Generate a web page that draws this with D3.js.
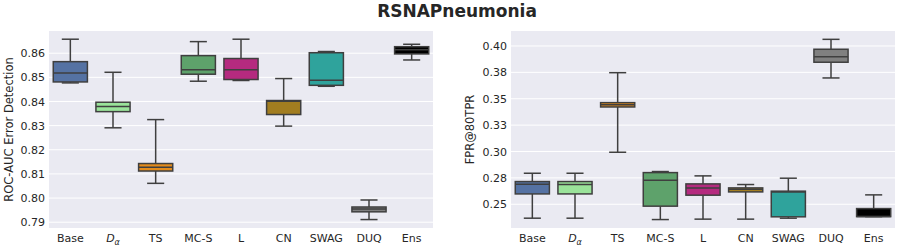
<!DOCTYPE html>
<html>
<head>
<meta charset="utf-8">
<script src="https://cdn.jsdelivr.net/npm/d3@7"></script>
<style>
  body { margin: 0; background: #fff; }
  text { font-family: "DejaVu Sans", sans-serif; }
</style>
</head>
<body>
<div id="chart"></div>
<script>
// Set dimensions
var w = 900;
var h = 250;

var categories = ["Base", "D_a", "TS", "MC-S", "L", "CN", "SWAG", "DUQ", "Ens"];
var colors = ["#5572a3", "#9ae39a", "#e38b1c", "#5ea26b", "#b52a7f", "#a27d20", "#2fa39c", "#808080", "#000000"];

// each box: [whisker low, q1, median, q3, whisker high]
var rocStats = [
    [0.8477, 0.8481, 0.8518, 0.8565, 0.8658],
    [0.8291, 0.8358, 0.8379, 0.8397, 0.8521],
    [0.8061, 0.8112, 0.8128, 0.8143, 0.8325],
    [0.8484, 0.8513, 0.8531, 0.8590, 0.8648],
    [0.8487, 0.8491, 0.8531, 0.8578, 0.8658],
    [0.8298, 0.8346, 0.8401, 0.8404, 0.8495],
    [0.8463, 0.8467, 0.8488, 0.8602, 0.8607],
    [0.7911, 0.7943, 0.7955, 0.7963, 0.7992],
    [0.8572, 0.8597, 0.8614, 0.8627, 0.8637]
];
var fprStats = [
    [0.2368, 0.2598, 0.2690, 0.2715, 0.2794],
    [0.2368, 0.2598, 0.2687, 0.2715, 0.2794],
    [0.2993, 0.3422, 0.3444, 0.3463, 0.3747],
    [0.2355, 0.2482, 0.2728, 0.2800, 0.2810],
    [0.2359, 0.2586, 0.2655, 0.2693, 0.2769],
    [0.2359, 0.2617, 0.2643, 0.2655, 0.2687],
    [0.2368, 0.2381, 0.2617, 0.2624, 0.2747],
    [0.3697, 0.3846, 0.3899, 0.3969, 0.4063],
    [0.2383, 0.2383, 0.2383, 0.2459, 0.2589]
];

var rocTicks = [0.79, 0.80, 0.81, 0.82, 0.83, 0.84, 0.85, 0.86];
var rocTickLabels = ["0.79", "0.80", "0.81", "0.82", "0.83", "0.84", "0.85", "0.86"];
var fprTicks = [0.25, 0.275, 0.30, 0.325, 0.35, 0.375, 0.40];
var fprTickLabels = ["0.25", "0.28", "0.30", "0.33", "0.35", "0.38", "0.40"];

var svg = d3.select("#chart")
    .append("svg")
    .attr("width", w)
    .attr("height", h);

svg.append("text")
    .attr("x", 457)
    .attr("y", 17)
    .attr("text-anchor", "middle")
    .style("font-size", "17px")
    .style("font-weight", "bold")
    .style("fill", "#262626")
    .text("RSNAPneumonia");

function drawPanel(opts) {
    var x = d3.scaleBand()
        .domain(d3.range(categories.length))
        .range([opts.left, opts.right])
        .padding(0);
    var y = d3.scaleLinear()
        .domain(opts.domain)
        .range([228, 31]);

    var g = svg.append("g");

    g.append("rect")
        .attr("x", opts.left)
        .attr("y", 31)
        .attr("width", opts.right - opts.left)
        .attr("height", 228 - 31)
        .attr("fill", "#eaeaf2");

    // grid
    g.selectAll("line.grid")
        .data(opts.ticks)
        .enter()
        .append("line")
        .attr("x1", opts.left)
        .attr("x2", opts.right)
        .attr("y1", function(d) { return y(d); })
        .attr("y2", function(d) { return y(d); })
        .attr("stroke", "#fff")
        .attr("stroke-width", 1);

    // y axis labels
    var yAxis = d3.axisLeft(y)
        .tickValues(opts.ticks)
        .tickFormat(function(d, i) { return opts.tickLabels[i]; })
        .tickSize(0)
        .tickPadding(4);
    var ya = g.append("g")
        .attr("transform", "translate(" + opts.left + ",0)")
        .call(yAxis);
    ya.select(".domain").remove();
    ya.selectAll("text")
        .style("font-size", "11px")
        .style("fill", "#262626")
        .style("font-family", "DejaVu Sans, sans-serif");

    // x axis labels
    var xAxis = d3.axisBottom(x)
        .tickFormat(function(d) { return categories[d]; })
        .tickSize(0)
        .tickPadding(6);
    var xa = g.append("g")
        .attr("transform", "translate(0,228)")
        .call(xAxis);
    xa.select(".domain").remove();
    xa.selectAll("text")
        .style("font-size", "11px")
        .style("fill", "#262626")
        .style("font-family", "DejaVu Sans, sans-serif")
        .each(function(d) {
            if (categories[d] === "D_a") {
                var t = d3.select(this).text("");
                t.append("tspan").style("font-style", "italic").text("D");
                t.append("tspan").attr("dy", "3").style("font-size", "8px")
                    .style("font-style", "italic").text("\u03b1");
            }
        });

    // y label
    g.append("text")
        .attr("transform", "translate(" + opts.labelX + "," + ((31 + 228) / 2) + ") rotate(-90)")
        .attr("text-anchor", "middle")
        .style("font-size", "11.5px")
        .style("fill", "#262626")
        .text(opts.label);

    var bw = x.bandwidth() * 0.8;
    var cw = bw / 2;
    var edge = "#3f3f3f";

    var boxes = g.selectAll("g.box")
        .data(opts.stats)
        .enter()
        .append("g")
        .attr("class", "box")
        .attr("transform", function(d, i) {
            return "translate(" + (x(i) + x.bandwidth() / 2) + ",0)";
        });

    // whiskers
    boxes.append("line")
        .attr("x1", 0).attr("x2", 0)
        .attr("y1", function(d) { return y(d[4]); })
        .attr("y2", function(d) { return y(d[3]); })
        .attr("stroke", edge).attr("stroke-width", 1.5);
    boxes.append("line")
        .attr("x1", 0).attr("x2", 0)
        .attr("y1", function(d) { return y(d[1]); })
        .attr("y2", function(d) { return y(d[0]); })
        .attr("stroke", edge).attr("stroke-width", 1.5);
    // caps
    [0, 4].forEach(function(k) {
        boxes.append("line")
            .attr("x1", -cw / 2).attr("x2", cw / 2)
            .attr("y1", function(d) { return y(d[k]); })
            .attr("y2", function(d) { return y(d[k]); })
            .attr("stroke", edge).attr("stroke-width", 1.5);
    });
    // box
    boxes.append("rect")
        .attr("x", -bw / 2)
        .attr("width", bw)
        .attr("y", function(d) { return y(d[3]); })
        .attr("height", function(d) { return Math.max(0.5, y(d[1]) - y(d[3])); })
        .attr("fill", function(d, i) { return colors[i]; })
        .attr("stroke", edge)
        .attr("stroke-width", 1.5);
    // median
    boxes.append("line")
        .attr("x1", -bw / 2).attr("x2", bw / 2)
        .attr("y1", function(d) { return y(d[2]); })
        .attr("y2", function(d) { return y(d[2]); })
        .attr("stroke", edge).attr("stroke-width", 1.5);
}

drawPanel({
    left: 49, right: 433,
    domain: [0.7876, 0.8692],
    ticks: rocTicks, tickLabels: rocTickLabels,
    stats: rocStats,
    label: "ROC-AUC Error Detection",
    labelX: 13
});

drawPanel({
    left: 511, right: 895,
    domain: [0.2275, 0.4142],
    ticks: fprTicks, tickLabels: fprTickLabels,
    stats: fprStats,
    label: "FPR@80TPR",
    labelX: 474
});
</script>
</body>
</html>
